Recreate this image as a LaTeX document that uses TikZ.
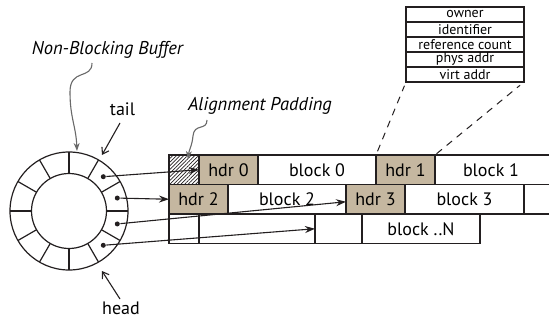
\documentclass[tikz,border=0pt]{standalone}
\usepackage{fontspec}
\setmainfont{PT Sans}
\usetikzlibrary{arrows.meta,patterns.meta,calc}
\definecolor{hdrfill}{RGB}{197,183,160}
\definecolor{snakegray}{RGB}{105,105,105}
\definecolor{edge}{RGB}{35,31,32}
\begin{document}
\begin{tikzpicture}[x=1pt,y=-1pt,line width=1.2pt,draw=edge,
  cell/.style={draw=edge,minimum height=29.5pt,inner sep=0pt,outer sep=0pt,anchor=north west,font=\fontsize{18}{18}\selectfont},
  hdr/.style={cell,fill=hdrfill},
  field/.style={draw=edge,minimum width=118pt,minimum height=15pt,inner sep=0pt,outer sep=0pt,anchor=north west,font=\fontsize{14}{14}\selectfont},
  lbl/.style={font=\fontsize{18}{18}\selectfont},
  ilbl/.style={font=\fontsize{18.5}{18.5}\selectfont\itshape},
  ptr/.style={-{Stealth[length=10pt,width=7pt]},line width=1.1pt},
  dot/.style={circle,fill=edge,inner sep=0pt,minimum size=5pt},
  barb/.style={-{Straight Barb[length=6pt,width=8pt]},line width=1.1pt},
  snk/.style={draw=snakegray,line width=1.1pt,-{Stealth[length=8pt,width=6pt]},color=snakegray}]
\useasboundingbox (0,0) rectangle (549,321);

% ring buffer
\coordinate (c) at (69,211);
\draw (c) circle[radius=59];
\draw (c) circle[radius=37.5];
\foreach \a in {0,30,...,330}{
  \draw ($(c)+(\a:37.5)$) -- ($(c)+(\a:59)$);
}
\node[dot] (d1) at ($(c)+(-45:48.5)$) {};
\node[dot] (d2) at ($(c)+(-15:50)$) {};
\node[dot] (d3) at ($(c)+(15:50)$) {};
\node[dot] (d4) at ($(c)+(45:48.5)$) {};

% row 1
\node[cell,pattern={Lines[angle=45,distance=2.6pt,line width=0.7pt]},pattern color=edge,minimum width=30pt] (pad) at (169,155) {};
\node[hdr,minimum width=59pt] (hdr0) at (199,155) {hdr 0};
\node[cell,minimum width=118pt] (blk0) at (258,155) {block 0};
\node[hdr,minimum width=59pt] (hdr1) at (376,155) {hdr 1};
\node[cell,draw=none,minimum width=112pt] (blk1) at (435,155) {block 1};
\draw (blk1.north west) -- (549,155);
\draw (blk1.south west) -- (549,184.5);

% row 2
\node[hdr,minimum width=59pt] (hdr2) at (169,184.5) {hdr 2};
\node[cell,minimum width=118pt] (blk2) at (228,184.5) {block 2};
\node[hdr,minimum width=59pt] (hdr3) at (346,184.5) {hdr 3};
\node[cell,minimum width=119pt] (blk3) at (405,184.5) {block 3};
\node[cell,draw=none,minimum width=25pt] (blk4) at (524,184.5) {};
\draw (blk4.north west) -- (blk4.south west);
\draw (blk3.south east) -- (549,214);

% row 3
\node[cell,minimum width=30pt] (r30) at (169,214) {};
\node[cell,minimum width=116pt] (r31) at (199,214) {};
\node[cell,minimum width=47pt] (r32) at (315,214) {};
\node[cell,minimum width=118pt] (blkN) at (362,214) {block ..N};

% pointers
\draw[ptr] (d1) -- (hdr0.west);
\draw[ptr] (d2) -- (hdr2.west);
\draw[ptr] (d3) -- ($(hdr3.west)+(0,2.5)$);
\draw[ptr] (d4) -- (r32.west);

% header fields
\node[field] (f1) at (406,7) {owner};
\node[field] (f2) at (406,22) {identifier};
\node[field] (f3) at (406,37) {reference count};
\node[field] (f4) at (406,52) {phys addr};
\node[field] (f5) at (406,67) {virt addr};
\draw[dash pattern=on 7pt off 6pt,line width=1pt,shorten <=4pt,shorten >=4pt] (hdr1.north west) -- (f5.south west);
\draw[dash pattern=on 7pt off 6pt,line width=1pt,shorten <=2pt,shorten >=5pt] (hdr1.north east) -- (f5.south east);

% labels
\node[ilbl] (nbb) at (107.5,50) {Non-Blocking Buffer};
\node[ilbl] (algn) at (260,106) {Alignment Padding};
\node[lbl] (tail) at (122.5,109) {tail};
\node[lbl] (head) at (121,308) {head};
\coordinate (tailpt) at (102,155);
\coordinate (headpt) at (102,271);
\coordinate (ringtop) at (77,151);
\coordinate (padtop) at (188,159);
\draw[barb] (120,123) -- (tailpt);
\draw[barb] (120,299) -- (headpt);
\draw[snk] (92,63) .. controls (92,80) and (70,68) .. (70,92) .. controls (70,118) and (76,126) .. (ringtop);
\draw[snk] (207,120) .. controls (207,131) and (194,123) .. (193,136) .. controls (192,146) and (189,150) .. (padtop);
\end{tikzpicture}
\end{document}
